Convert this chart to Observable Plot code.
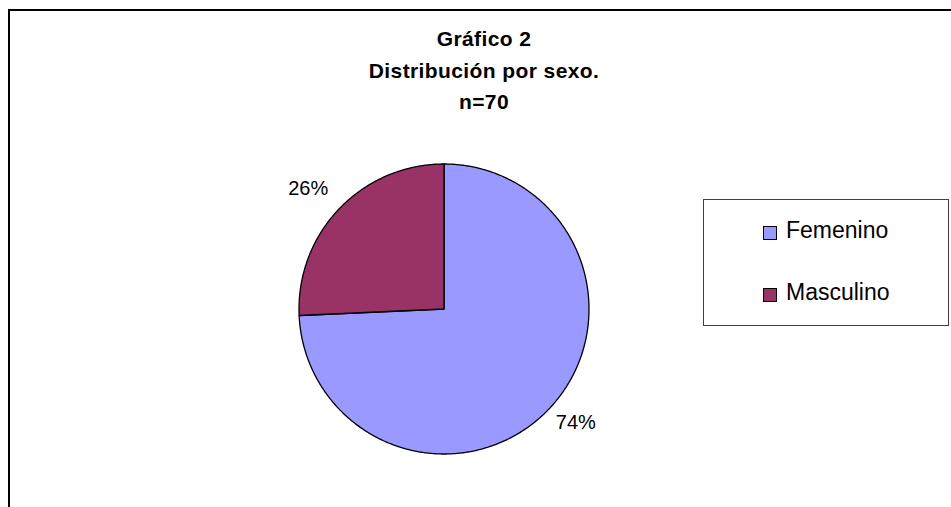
<!DOCTYPE html>
<html>
<head>
<meta charset="utf-8">
<script src="https://cdn.jsdelivr.net/npm/d3@7"></script>
<script src="https://cdn.jsdelivr.net/npm/@observablehq/plot@0.6"></script>
<style>
  html, body { margin: 0; padding: 0; background: #fff; overflow: hidden; }
  body { width: 951px; height: 507px; position: relative; font-family: "Liberation Sans", Arial, sans-serif; }
  #frame { position: absolute; left: 8px; top: 9px; width: 1000px; height: 600px;
           border-top: 2px solid #000; border-left: 2px solid #000; }
  #chart { position: absolute; left: 0; top: 0; }
  #title { position: absolute; left: 284px; top: 23px; width: 400px; text-align: center;
           font-weight: bold; font-size: 21px; line-height: 31.5px; letter-spacing: 0.4px; color: #000; }
  #legend { position: absolute; left: 703px; top: 199px; width: 246px; height: 127px;
            border: 1px solid #404040; box-sizing: border-box; }
  .entry { position: absolute; left: 59px; height: 24px; font-size: 23px; line-height: 24px; color: #000; }
  .sw { position: absolute; left: 0; width: 14px; height: 14px; border: 1px solid #000; box-sizing: border-box; }
  .lab { position: absolute; left: 23px; white-space: nowrap; }
</style>
</head>
<body>
<div id="frame"></div>
<div id="chart"></div>
<div id="title"></div>
<div id="legend"></div>
<script>
const titulo = ["Gráfico 2", "Distribución por sexo.", "n=70"];
const categorias = ["Femenino", "Masculino"];
const valores = [52, 18];
const etiquetas = ["74%", "26%"];
const colores = ["#9999FF", "#993366"];

// Title
document.getElementById("title").innerHTML = titulo.map(t => `<div>${t}</div>`).join("");

// Pie geometry from data
const arcs = d3.pie().sort(null).value(d => d)(valores);
const outline = [];
const labels = [];
arcs.forEach((a, i) => {
  const name = categorias[i];
  outline.push({name, x: 0, y: 0});
  const n = Math.max(2, Math.ceil((a.endAngle - a.startAngle) / (Math.PI / 360)));
  for (let k = 0; k <= n; k++) {
    const t = a.startAngle + (a.endAngle - a.startAngle) * k / n;
    outline.push({name, x: Math.sin(t), y: Math.cos(t)});
  }
  outline.push({name, x: 0, y: 0});
  const mid = (a.startAngle + a.endAngle) / 2;
  labels.push({name, label: etiquetas[i], x: 1.21 * Math.sin(mid), y: 1.21 * Math.cos(mid)});
});

const cx = 443.5, cy = 308.5, r = 145;
const W = 951, H = 507;
const labelOffsets = {Femenino: [5, -8], Masculino: [-9, 1]};

const plot = Plot.plot({
  width: W,
  height: H,
  marginLeft: cx - r,
  marginRight: W - (cx + r),
  marginTop: cy - r,
  marginBottom: H - (cy + r),
  x: {domain: [-1, 1], axis: null},
  y: {domain: [-1, 1], axis: null},
  color: {domain: categorias, range: colores},
  style: {fontFamily: "'Liberation Sans', Arial, sans-serif", background: "transparent", overflow: "visible"},
  marks: [
    Plot.line(outline, {x: "x", y: "y", z: "name", fill: "name", stroke: "#000", strokeWidth: 1.3, strokeLinejoin: "round", curve: "linear"}),
    ...labels.map(l => Plot.text([l], {x: "x", y: "y", text: "label", fontSize: 20, fill: "#000", textAnchor: "middle",
      dx: labelOffsets[l.name][0], dy: labelOffsets[l.name][1]}))
  ]
});
document.getElementById("chart").appendChild(plot);

// Legend
const legend = document.getElementById("legend");
const tops = [18, 80];
categorias.forEach((c, i) => {
  const e = document.createElement("div");
  e.className = "entry";
  e.style.top = tops[i] + "px";
  e.innerHTML = `<span class="sw" style="background:${colores[i]};top:8px"></span><span class="lab">${c}</span>`;
  legend.appendChild(e);
});
</script>
</body>
</html>
